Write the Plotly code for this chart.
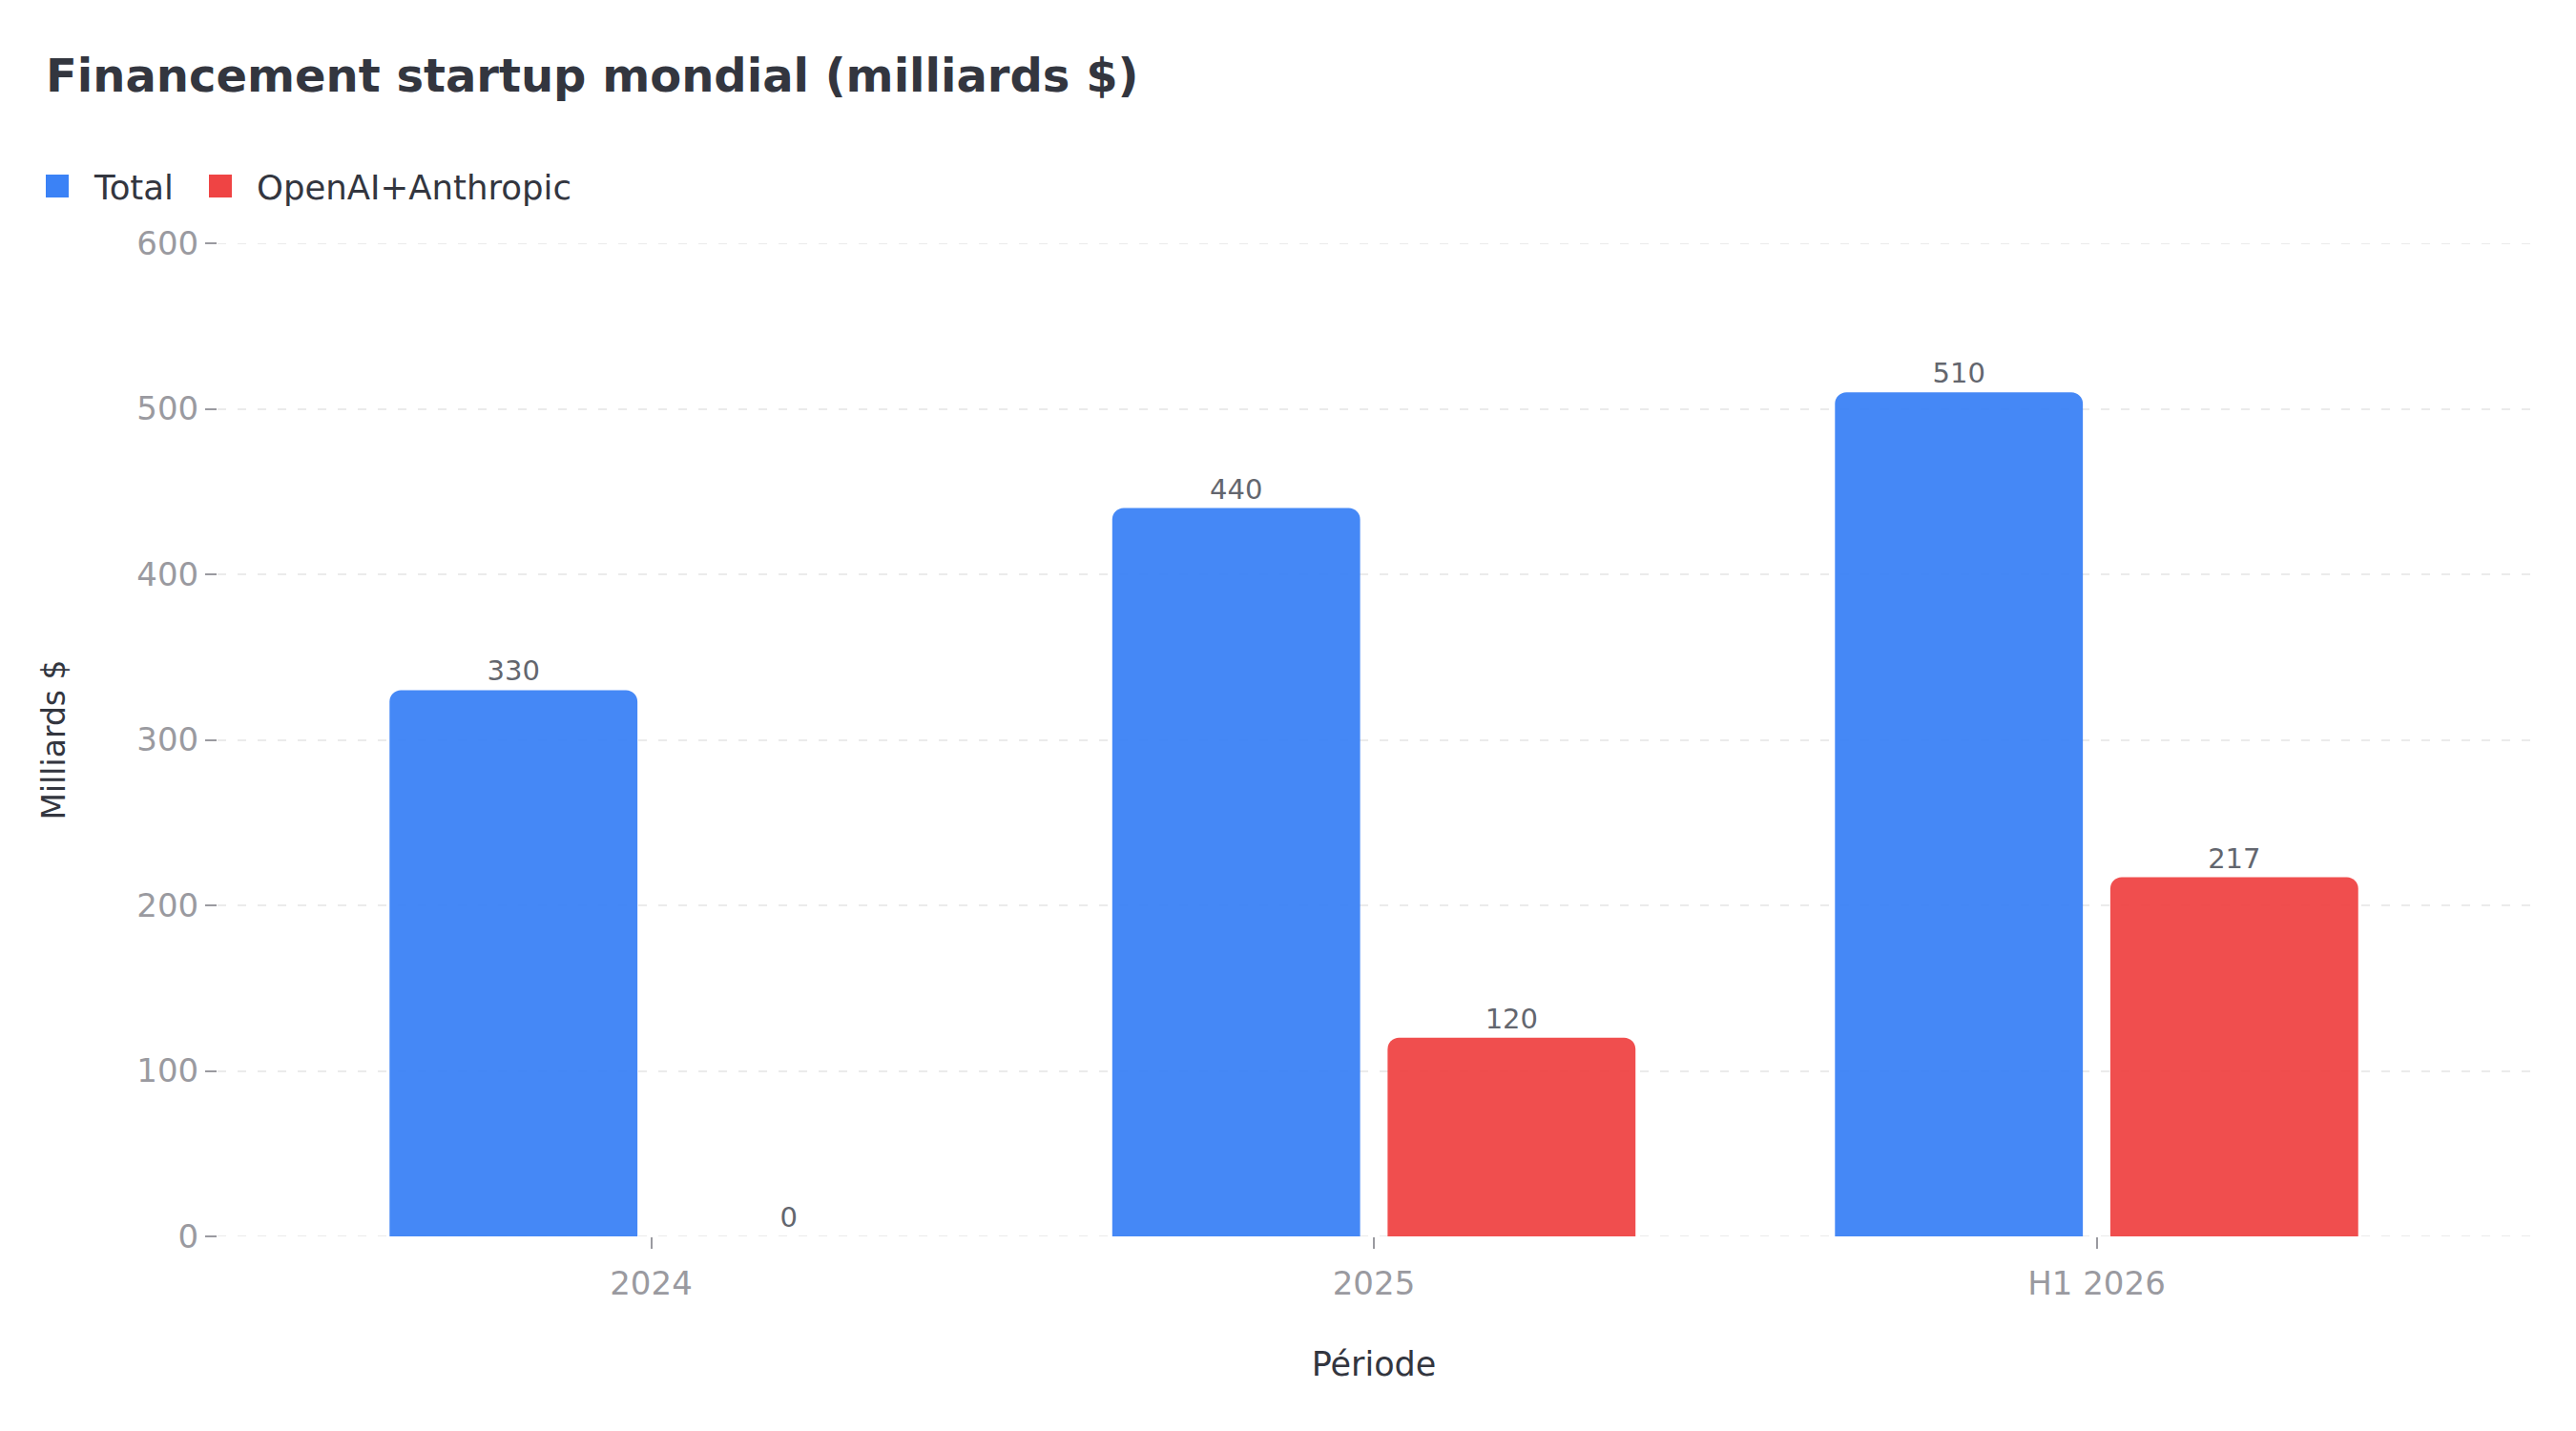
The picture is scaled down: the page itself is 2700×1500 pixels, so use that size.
import plotly.graph_objects as go

# ---- data ----
periods = ["2024", "2025", "H1 2026"]
total = [330, 440, 510]
openai_anthropic = [0, 120, 217]
series_names = ["Total", "OpenAI+Anthropic"]
y_ticks = [0, 100, 200, 300, 400, 500, 600]

# ---- style ----
W, H = 2700, 1500
L, R, T, B = 228, 48, 255, 204
FONT = "DejaVu Sans"
DARK = "#33363f"
GREY = "#9a9aa0"
LABEL = "#63666e"
BLUE = "#3b82f6"
RED = "#ef4444"
GRID = "#ebebeb"

pw, ph = W - L - R, H - T - B


def px_x(x):
    return (x - L) / pw


def px_y(y):
    return (H - B - y) / ph


fig = go.Figure()
for name, vals, col, off in [
    (series_names[0], total, BLUE, -0.362),
    (series_names[1], openai_anthropic, RED, 0.019),
]:
    fig.add_trace(go.Bar(
        x=periods, y=vals, name=name,
        marker=dict(color=col, opacity=0.95, cornerradius=12, line=dict(width=0)),
        width=0.343, offset=off,
        text=[str(v) for v in vals], textposition="outside",
        textfont=dict(family=FONT, size=29, color=LABEL),
        cliponaxis=False, showlegend=False,
    ))

# grid lines at the range edges (plotly drops them at the plot border)
for yv in (y_ticks[0], y_ticks[-1]):
    fig.add_shape(type="line", xref="paper", yref="y", x0=0, x1=1, y0=yv, y1=yv,
                  layer="below", line=dict(color=GRID, width=2, dash="9px,12px"))

# manual legend (squares + real text)
legend_items = [(series_names[0], BLUE, 48, 96), (series_names[1], RED, 219, 267)]
for name, col, sx, tx in legend_items:
    fig.add_shape(type="rect", xref="paper", yref="paper",
                  x0=px_x(sx), x1=px_x(sx + 24), y0=px_y(207), y1=px_y(183),
                  fillcolor=col, line=dict(width=0))
    fig.add_annotation(xref="paper", yref="paper", x=px_x(tx), y=px_y(196),
                       xanchor="left", yanchor="middle", showarrow=False,
                       text=name, font=dict(family=FONT, size=35.5, color=DARK))

fig.update_layout(
    width=W, height=H,
    margin=dict(l=L, r=R, t=T, b=B, autoexpand=False),
    paper_bgcolor="white", plot_bgcolor="white",
    barmode="group",
    title=dict(text="<b>Financement startup mondial (milliards $)</b>",
               x=48 / W, xanchor="left", xref="container",
               y=1 - 79 / H, yanchor="middle", yref="container",
               font=dict(family=FONT, size=48, color=DARK)),
    xaxis=dict(
        type="category", range=[-0.6, 2.6],
        showgrid=False, showline=False, zeroline=False,
        ticks="outside", ticklen=12, tickwidth=2, tickcolor=GREY,
        ticklabelstandoff=7,
        tickfont=dict(family=FONT, size=34, color=GREY),
        title=dict(text="Période", font=dict(family=FONT, size=35, color=DARK), standoff=53),
    ),
    yaxis=dict(
        range=[0, 600], tickvals=y_ticks,
        showgrid=True, gridcolor=GRID, gridwidth=2, griddash="9px,12px",
        showline=False, zeroline=False,
        ticks="outside", ticklen=12, tickwidth=2, tickcolor=GREY,
        tickfont=dict(family=FONT, size=34, color=GREY),
        title=dict(text="Milliards $", font=dict(family=FONT, size=33, color=DARK), standoff=64),
    ),
)

fig.write_html("out.html")
